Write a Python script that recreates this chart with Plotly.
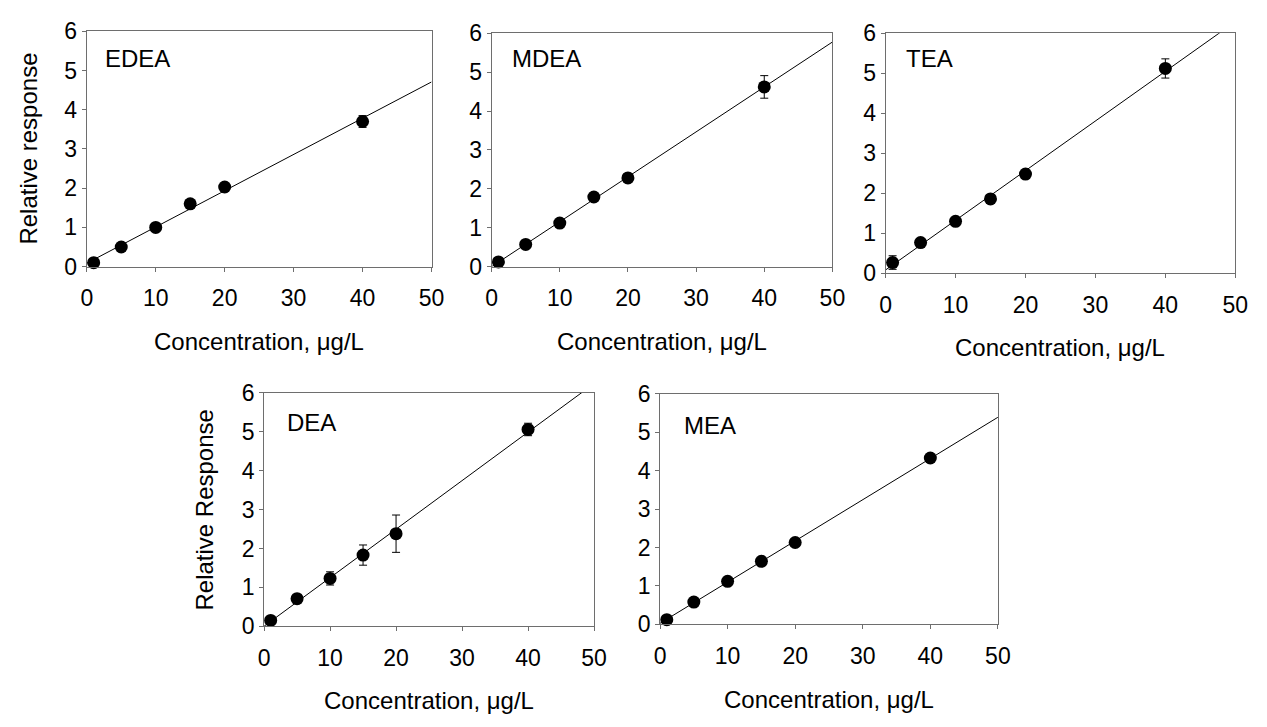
import numpy as np
import plotly.graph_objects as go

# ---------------- data ----------------
conc = [1, 5, 10, 15, 20, 40]

names = ["EDEA", "MDEA", "TEA", "DEA", "MEA"]

edea_y = [0.10, 0.50, 1.00, 1.60, 2.03, 3.70]
edea_err = [0.03, 0.03, 0.04, 0.10, 0.05, 0.15]

mdea_y = [0.12, 0.57, 1.12, 1.79, 2.28, 4.62]
mdea_err = [0.03, 0.04, 0.04, 0.05, 0.05, 0.29]

tea_y = [0.27, 0.77, 1.30, 1.86, 2.48, 5.12]
tea_err = [0.17, 0.04, 0.05, 0.05, 0.05, 0.24]

dea_y = [0.15, 0.71, 1.23, 1.83, 2.38, 5.06]
dea_err = [0.03, 0.04, 0.17, 0.26, 0.48, 0.16]

mea_y = [0.12, 0.58, 1.12, 1.64, 2.13, 4.33]
mea_err = [0.02, 0.02, 0.03, 0.03, 0.03, 0.04]

series_y = [edea_y, mdea_y, tea_y, dea_y, mea_y]
series_err = [edea_err, mdea_err, tea_err, dea_err, mea_err]

y_titles = ["Relative response", "", "", "Relative Response", ""]
x_title = "Concentration, \u03bcg/L"

x_ticks = [0, 10, 20, 30, 40, 50]
y_ticks = [0, 1, 2, 3, 4, 5, 6]

# ---------------- layout geometry (pixels) ----------------
W, H = 1267, 727
# (left, right, top, bottom) of each plot area in pixels
boxes = [
    (82, 432, 19, 263),
    (493, 839, 21, 263),
    (893, 1248, 21, 270),
    (262, 597, 394, 636),
    (664, 1007, 395, 634),
]
xtitle_y = [341, 341, 347, 713, 712]
label_pos = [(98, 47), (512, 47), (912, 47), (283, 425), (686, 428)]
ytitle_x = [23, None, None, 202, None]

FONT = "Liberation Sans, Arial, sans-serif"
FRAME = "#6e6e6e"

fig = go.Figure()
layout = dict(
    width=W, height=H,
    margin=dict(l=0, r=0, t=0, b=0),
    paper_bgcolor="white", plot_bgcolor="white",
    showlegend=False,
    font=dict(family=FONT, size=23, color="black"),
)
annotations = []

for i, (name, ys, errs) in enumerate(zip(names, series_y, series_err)):
    k = "" if i == 0 else str(i + 1)
    xa, ya = "x" + k, "y" + k
    l, r, t, b = boxes[i]
    layout["xaxis" + k] = dict(
        domain=[l / W, r / W], range=[0, 50], anchor=ya,
        tickvals=x_ticks, ticks="outside", ticklen=4, tickcolor=FRAME,
        showline=True, mirror=True, linecolor=FRAME, linewidth=1,
        showgrid=False, zeroline=False, ticklabelstandoff=7,
        tickfont=dict(size=23, family=FONT),
    )
    layout["yaxis" + k] = dict(
        domain=[1 - b / H, 1 - t / H], range=[0, 6], anchor=xa,
        tickvals=y_ticks, ticks="outside", ticklen=4, tickcolor=FRAME,
        showline=True, mirror=True, linecolor=FRAME, linewidth=1,
        showgrid=False, zeroline=False,
        tickfont=dict(size=23, family=FONT),
    )

    # linear fit line
    slope, intercept = np.polyfit(conc, ys, 1)
    xl = np.array([0.0, 50.0])
    fig.add_trace(go.Scatter(x=xl, y=slope * xl + intercept, mode="lines",
                             line=dict(color="black", width=1),
                             xaxis=xa, yaxis=ya, hoverinfo="skip"))
    # data points
    fig.add_trace(go.Scatter(
        x=conc, y=ys, mode="markers",
        marker=dict(color="black", size=13),
        error_y=dict(type="data", array=errs, color="black", thickness=1, width=4),
        xaxis=xa, yaxis=ya, cliponaxis=False, name=name))

    # panel label
    lx, ly = label_pos[i]
    annotations.append(dict(text=name, x=lx / W, y=1 - ly / H, xref="paper", yref="paper",
                            xanchor="left", yanchor="middle", showarrow=False,
                            font=dict(size=24, family=FONT)))
    # x title
    annotations.append(dict(text=x_title, x=(l + r) / 2 / W, y=1 - xtitle_y[i] / H,
                            xref="paper", yref="paper", xanchor="center", yanchor="middle",
                            showarrow=False, font=dict(size=24, family=FONT)))
    # y title
    if ytitle_x[i] is not None:
        annotations.append(dict(text=y_titles[i], x=ytitle_x[i] / W, y=1 - (t + b) / 2 / H,
                                xref="paper", yref="paper", xanchor="center", yanchor="middle",
                                textangle=-90, showarrow=False, font=dict(size=24, family=FONT)))

layout["annotations"] = annotations
fig.update_layout(**layout)
fig.write_html("out.html")
